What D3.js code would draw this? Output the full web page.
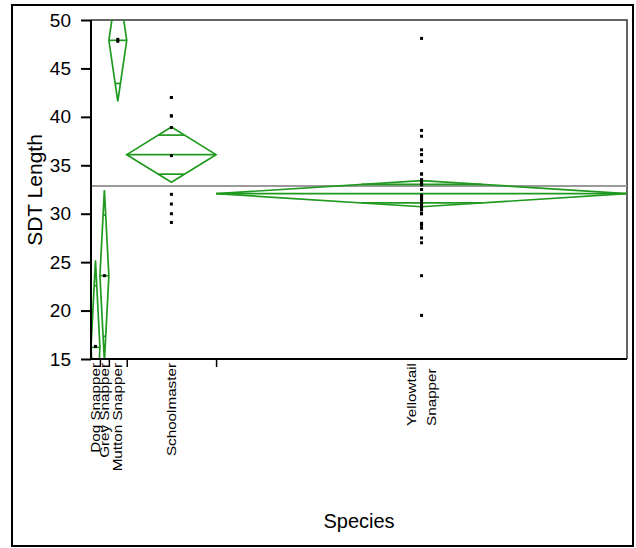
<!DOCTYPE html>
<html>
<head>
<meta charset="utf-8">
<script src="https://cdn.jsdelivr.net/npm/d3@7"></script>
<style>
  html, body { margin: 0; padding: 0; background: #fff; }
  svg { display: block; font-family: "Liberation Sans", Arial, sans-serif; }
</style>
</head>
<body>
<svg id="chart" width="636" height="548"></svg>
<script>
// ---------------- data ----------------
const categories = ["Dog Snapper", "Grey Snapper", "Mutton Snapper", "Schoolmaster", "Yellowtail Snapper"];
const counts = [1, 1, 2, 10, 46];
const means = [16.2, 23.6, 47.9, 36.1, 32.07];
const ciHalf = [9.0, 8.85, 6.3, 2.85, 1.35];
const grandMean = 32.86;
const yTicks = [15, 20, 25, 30, 35, 40, 45, 50];
const xTickLabels = [["Dog Snapper"], ["Grey Snapper"], ["Mutton Snapper"], ["Schoolmaster"], ["Yellowtail", "Snapper"]];
const dogPoints = [16.3];
const greyPoints = [23.6];
const muttonPoints = [48.0, 47.8];
const schoolmasterPoints = [42.0, 42.0, 40.1, 40.1, 38.9, 36.0, 32.0, 31.0, 30.0, 29.1];
const yellowtailPoints = [48.1, 38.6, 38.0, 36.6, 36.1, 35.4, 34.1, 33.5, 33.2, 33.0, 32.5, 31.9, 31.7,
  31.4, 31.0, 30.7, 30.4, 30.0, 29.0, 28.8, 28.5, 27.5, 27.0, 23.6, 19.5,
  33.2, 33.0, 32.5, 31.9, 31.7, 31.4, 31.0, 30.7, 30.4, 33.5, 34.1, 35.4, 36.1, 30.0, 29.0,
  31.0, 32.5, 33.2, 31.7, 33.0, 31.4];
const pointsByCategory = [dogPoints, greyPoints, muttonPoints, schoolmasterPoints, yellowtailPoints];

// ---------------- layout ----------------
const svg = d3.select("#chart");
const pL = 91, pR = 627, pT = 20, pB = 359;
const green = "#1f9a1f";

svg.append("rect").attr("width", 636).attr("height", 548).attr("fill", "#fff");
svg.append("rect").attr("x", 12).attr("y", 5).attr("width", 621).attr("height", 541)
  .attr("fill", "none").attr("stroke", "#000").attr("stroke-width", 2);

const total = d3.sum(counts);
const x = d3.scaleLinear().domain([0, total]).range([pL, pR]);
const y = d3.scaleLinear().domain([15, 50]).range([pB, pT]);

const cum = [0];
counts.forEach((c, i) => cum.push(cum[i] + c));
const bands = categories.map((c, i) => ({
  name: c, x0: x(cum[i]), x1: x(cum[i + 1]), xc: x((cum[i] + cum[i + 1]) / 2),
  mean: means[i], ci: ciHalf[i], pts: pointsByCategory[i], label: xTickLabels[i]
}));

// clip
svg.append("clipPath").attr("id", "plotclip").append("rect")
  .attr("x", pL).attr("y", pT).attr("width", pR - pL).attr("height", pB - pT);

// frame (top & right)
svg.append("path").attr("d", `M${pL},${pT}H${pR}V${pB}`)
  .attr("fill", "none").attr("stroke", "#333").attr("stroke-width", 1.5);

const plot = svg.append("g").attr("clip-path", "url(#plotclip)");

// grand mean
plot.append("line").attr("x1", pL).attr("x2", pR)
  .attr("y1", y(grandMean)).attr("y2", y(grandMean))
  .attr("stroke", "#9a9a9a").attr("stroke-width", 2);

// diamonds
bands.forEach(b => {
  const g = plot.append("g").attr("stroke", green).attr("stroke-width", 1.7).attr("fill", "none");
  const hi = y(b.mean + b.ci), lo = y(b.mean - b.ci), m = y(b.mean);
  g.append("path").attr("d", `M${b.x0},${m}L${b.xc},${hi}L${b.x1},${m}L${b.xc},${lo}Z`);
  g.append("line").attr("x1", b.x0).attr("x2", b.x1).attr("y1", m).attr("y2", m);
  const f = 1 - Math.SQRT1_2;
  const hw = (b.x1 - b.x0) / 2 * f;
  [b.mean + b.ci * Math.SQRT1_2, b.mean - b.ci * Math.SQRT1_2].forEach(v => {
    g.append("line").attr("x1", b.xc - hw).attr("x2", b.xc + hw)
      .attr("y1", y(v)).attr("y2", y(v));
  });
});

// points
bands.forEach(b => {
  plot.selectAll(null).data(b.pts).enter().append("rect")
    .attr("x", b.xc - 1.5).attr("y", d => y(d) - 1.5)
    .attr("width", 3).attr("height", 3).attr("fill", "#000");
});

// y axis
const yAxis = svg.append("g").attr("transform", `translate(${pL},0)`)
  .call(d3.axisLeft(y).tickValues(yTicks).tickSize(10).tickPadding(10).tickFormat(d3.format("d")));
yAxis.select(".domain").attr("stroke", "#000").attr("stroke-width", 2).attr("d", `M0,${pT}V${pB}`);
yAxis.selectAll(".tick line").attr("stroke", "#000").attr("stroke-width", 2);
yAxis.selectAll(".tick text").attr("font-size", 19).attr("font-family", "Liberation Sans, Arial, sans-serif").attr("fill", "#000");

// x axis (ticks at inner category boundaries)
const xAxis = svg.append("g").attr("transform", `translate(0,${pB})`)
  .call(d3.axisBottom(x).tickValues(cum.slice(1, -1)).tickSize(8).tickFormat(""));
xAxis.select(".domain").attr("stroke", "#000").attr("stroke-width", 2).attr("d", `M${pL},0H${pR}`);
xAxis.selectAll(".tick line").attr("stroke", "#000").attr("stroke-width", 1.5);

// category labels
const stretch = 1.27;
bands.forEach(b => {
  const n = b.label.length;
  const g = svg.append("g").attr("transform", `translate(${b.xc},${pB + 4}) rotate(-90) scale(${stretch},1)`);
  const texts = b.label.map((t, i) => g.append("text")
    .attr("font-size", 12).attr("fill", "#000")
    .attr("y", (i - (n - 1) / 2) * 20)
    .attr("dy", "0.35em").text(t));
  if (n === 1) {
    texts[0].attr("text-anchor", "end").attr("x", 0);
  } else {
    const maxLen = d3.max(texts, t => t.node().getComputedTextLength());
    texts.forEach(t => t.attr("text-anchor", "start").attr("x", -maxLen));
  }
});

// axis titles
svg.append("text").attr("transform", `translate(42,190) rotate(-90)`)
  .attr("text-anchor", "middle").attr("font-size", 21).attr("fill", "#000").text("SDT Length");
svg.append("text").attr("x", (pL + pR) / 2).attr("y", 528)
  .attr("text-anchor", "middle").attr("font-size", 20).attr("fill", "#000").text("Species");
</script>
</body>
</html>
